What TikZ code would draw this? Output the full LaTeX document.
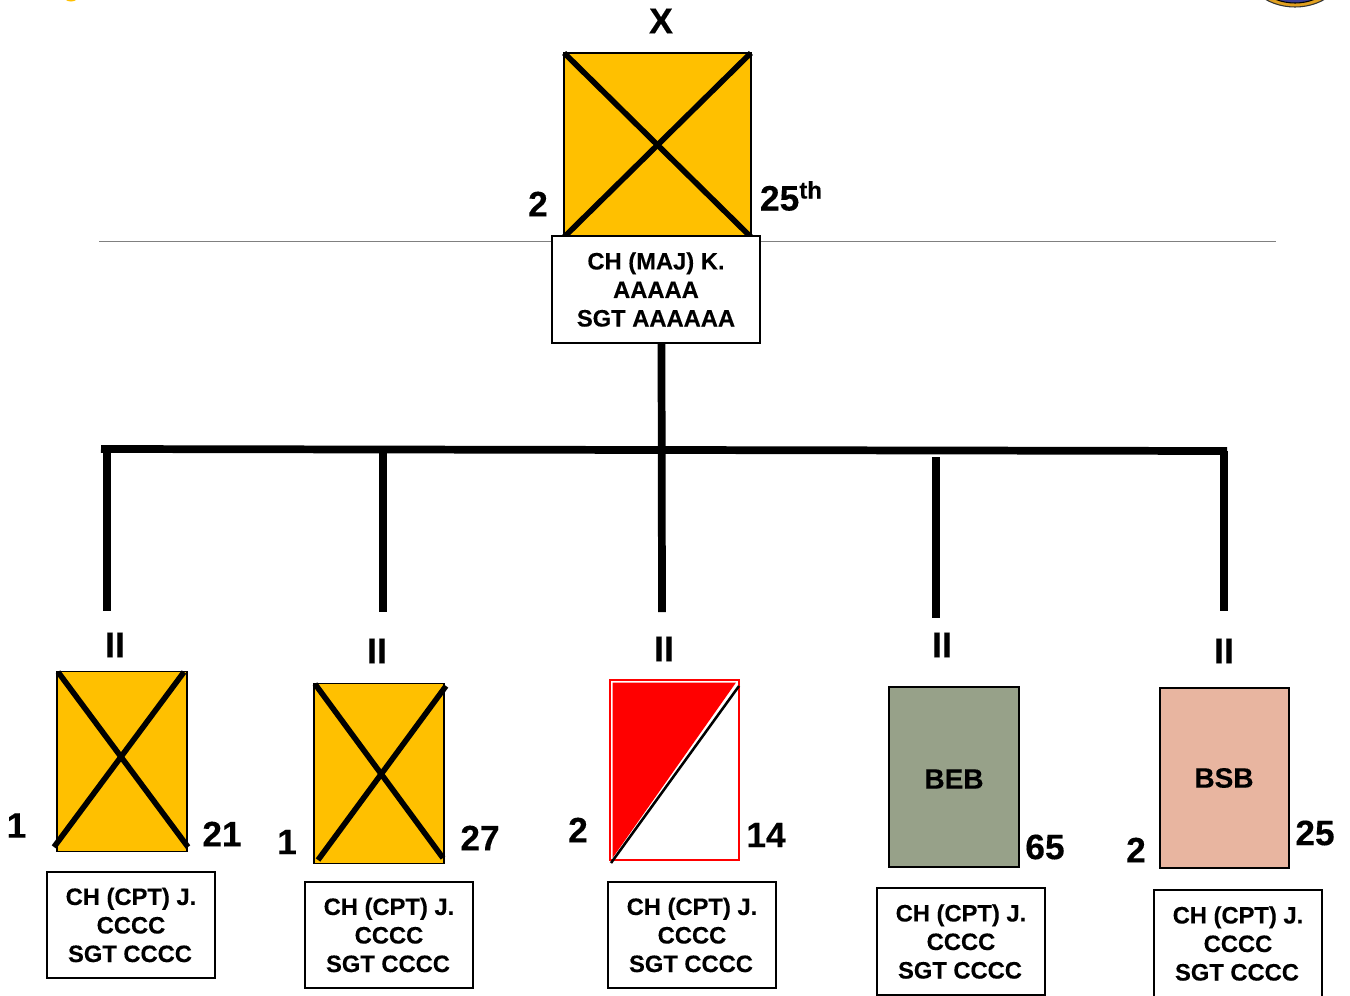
\documentclass[tikz,border=0pt]{standalone}
\usepackage{fontspec}
\setmainfont[BoldFeatures={FakeBold=0.25}]{Liberation Sans}
\definecolor{armor}{HTML}{FFC000}
\definecolor{engineer}{HTML}{97A189}
\definecolor{support}{HTML}{E8B5A0}
\definecolor{sealblue}{HTML}{3B3E96}
\definecolor{sealgold}{HTML}{E0A020}
\newcommand{\cptlines}{CH (CPT) J.\\CCCC\hspace*{1.5pt}\\SGT CCCC\hspace*{1.5pt}}
\tikzset{
  x=0.75pt,y=-0.75pt,
  every node/.style={font=\bfseries,inner sep=0pt,outer sep=0pt},
  namebox/.style={draw=black,fill=white,line width=1.5pt,minimum width=126pt,minimum height=80pt,align=center,
    font=\fontsize{17.8}{21.4}\selectfont\bfseries},
  unitbox/.style={draw=black,line width=1.4pt,minimum width=97pt,minimum height=135pt},
  bignum/.style={font=\fontsize{26.5}{30}\selectfont\bfseries},
  echelon/.style={font=\fontsize{27}{30}\selectfont\bfseries},
  unitname/.style={font=\fontsize{21}{24}\selectfont\bfseries},
  bus/.style={line width=5.8pt,black},
  crossline/.style={line width=4.2pt,black},
}
\begin{document}
\begin{tikzpicture}
\clip (0,0) rectangle (1350,996);
\fill[white] (0,0) rectangle (1350,996);
% clipped decorations along the top edge
\fill[armor] (71,-5) ellipse [x radius=8,y radius=6.5];
\draw[fill=sealgold,draw=black!80,line width=0.8pt] (1295,-40) ellipse [x radius=54,y radius=47];
\fill[sealblue,draw=black,line width=0.8pt] (1295,-42) ellipse [x radius=49,y radius=45];
% rule
\coordinate (ruleL) at (99,241);
\coordinate (ruleR) at (1276,241);
\draw[line width=0.7pt,black!50] (ruleL) -- (ruleR);
% bus
\coordinate (busL) at (101,449);
\coordinate (busR) at (1227,451);
\coordinate (busA) at (107,449);
\coordinate (busB) at (383,450);
\coordinate (busC) at (662,450);
\coordinate (busE) at (1224,451);
\coordinate (endA) at (107,611);
\coordinate (endB) at (383,612);
\coordinate (endC) at (662,612);
\coordinate (startD) at (936,457);
\coordinate (endD) at (936,618);
\coordinate (endE) at (1224,611);
% top unit
\node[unitbox,fill=armor,minimum width=140pt,minimum height=138pt] (top) at (657.5,145) {};
\draw[crossline] (top.north west) -- (top.south east);
\draw[crossline] (top.north east) -- (top.south west);
\node[namebox,minimum width=156pt] (topname) at (656,289.5) {CH (MAJ) K.\\AAAAA\\SGT AAAAAA};
\node[echelon] (topech) at (661,21) {X};
\node[bignum] (topl) at (538,204) {2};
\node[bignum,anchor=west] (topr) at (760,196) {25\raisebox{9pt}{\fontsize{18}{20}\selectfont th}};
\draw[bus] (661.5,343) -- (endC);
\draw[bus] (busL) -- (busR);
\draw[bus] (busA) -- (endA);
\draw[bus] (busB) -- (endB);
\draw[bus] (startD) -- (endD);
\draw[bus] (busE) -- (endE);
% unit 1
\node[unitbox,fill=armor] (ua) at (122,761.5) {};
\coordinate (a1) at (58,672); \coordinate (a2) at (188,847);
\coordinate (a3) at (184,672); \coordinate (a4) at (54,847);
\draw[crossline] (a1) -- (a2);
\draw[crossline] (a3) -- (a4);
\node[namebox] (na) at (131,925) {\cptlines};
\node[echelon] (ea) at (115,645) {II};
\node[bignum] (la) at (16.5,825.5) {1};
\node[bignum] (ra) at (222,834) {21};
% unit 2
\node[unitbox,fill=armor] (ub) at (379,773.5) {};
\coordinate (b1) at (315,684); \coordinate (b2) at (443,858);
\coordinate (b3) at (446,686); \coordinate (b4) at (318,860);
\draw[crossline] (b1) -- (b2);
\draw[crossline] (b3) -- (b4);
\node[namebox] (nb) at (389,935) {\cptlines};
\node[echelon] (eb) at (377,651) {II};
\node[bignum] (lb) at (287,842) {1};
\node[bignum] (rb) at (480,838) {27};
% unit 3
\node[unitbox,draw=red,line width=1.1pt,minimum height=135pt] (uc) at (674.5,770) {};
\coordinate (c1) at (612.5,682.5); \coordinate (c2) at (736,682.5); \coordinate (c3) at (612.5,858);
\fill[red] (c1) -- (c2) -- (c3) -- cycle;
\coordinate (c4) at (739,686); \coordinate (c5) at (611,863);
\draw[line width=1.9pt,black] (c4) -- (c5);
\node[namebox] (nc) at (692,935) {\cptlines};
\node[echelon] (ec) at (664,649) {II};
\node[bignum] (lc) at (578,830) {2};
\node[bignum] (rc) at (766,835) {14};
% unit 4
\node[unitbox,fill=engineer] (ud) at (954,777) {};
\node[unitname] (td) at (954,779) {BEB};
\node[namebox] (nd) at (961,941.5) {\cptlines};
\node[echelon] (ed) at (942,645) {II};
\node[bignum] (rd) at (1045,847) {65};
% unit 5
\node[unitbox,fill=support] (ue) at (1224.5,778) {};
\node[unitname] (te) at (1224,778) {BSB};
\node[namebox] (ne) at (1238,943.5) {\cptlines};
\node[echelon] (ee) at (1224,651) {II};
\node[bignum] (le) at (1136,850) {2};
\node[bignum] (re) at (1315,833) {25};
\end{tikzpicture}
\end{document}
